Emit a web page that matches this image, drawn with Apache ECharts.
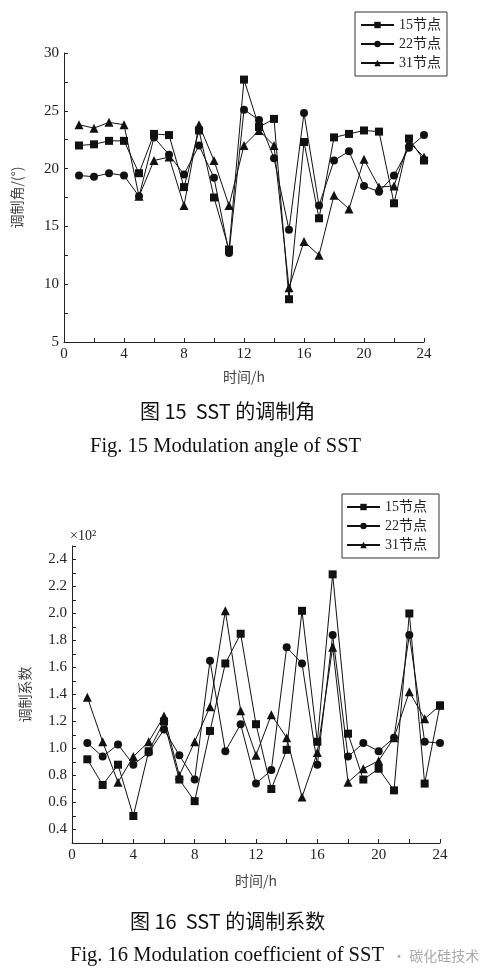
<!DOCTYPE html>
<html>
<head>
<meta charset="utf-8">
<script src="https://cdn.jsdelivr.net/npm/echarts@6/dist/echarts.min.js"></script>
<style>
  html, body { margin: 0; padding: 0; background: #fff; }
  #chart { width: 492px; height: 978px; }
</style>
</head>
<body>
<div id="chart"></div>
<script>
// 时间 (h)
const hours = [1, 2, 3, 4, 5, 6, 7, 8, 9, 10, 11, 12, 13, 14, 15, 16, 17, 18, 19, 20, 21, 22, 23, 24]
const seriesNames = ['15节点', '22节点', '31节点']

// 图15 调制角 (°)
const angle15 = [22.0, 22.1, 22.4, 22.4, 19.6, 23.0, 22.9, 18.4, 23.3, 17.5, 13.0, 27.7, 23.6, 24.3, 8.7, 22.3, 15.7, 22.7, 23.0, 23.3, 23.2, 17.0, 22.6, 20.7]
const angle22 = [19.4, 19.3, 19.6, 19.4, 17.6, 22.7, 21.2, 19.5, 22.0, 19.2, 12.7, 25.1, 24.2, 20.9, 14.7, 24.8, 16.8, 20.7, 21.5, 18.5, 18.0, 19.4, 21.8, 22.9]
const angle31 = [23.8, 23.5, 24.0, 23.8, 17.6, 20.7, 21.0, 16.8, 23.8, 20.7, 16.8, 22.0, 23.3, 22.0, 9.7, 13.7, 12.5, 17.7, 16.5, 20.8, 18.4, 18.5, 22.3, 21.0]

// 图16 调制系数 (×10²)
const coef15 = [0.92, 0.73, 0.88, 0.50, 0.98, 1.20, 0.77, 0.61, 1.13, 1.63, 1.85, 1.18, 0.70, 0.99, 2.02, 1.05, 2.29, 1.11, 0.77, 0.85, 0.69, 2.00, 0.74, 1.32]
const coef22 = [1.04, 0.94, 1.03, 0.88, 0.97, 1.14, 0.95, 0.77, 1.65, 0.98, 1.18, 0.74, 0.84, 1.75, 1.63, 0.88, 1.84, 0.94, 1.04, 0.98, 1.08, 1.84, 1.05, 1.04]
const coef31 = [1.38, 1.05, 0.75, 0.94, 1.05, 1.24, 0.80, 1.05, 1.31, 2.02, 1.28, 0.95, 1.25, 1.08, 0.64, 0.97, 1.75, 0.75, 0.85, 0.91, 1.08, 1.42, 1.22, 1.32]

const symbols = ['rect', 'circle', 'triangle']
const symbolSizes = [8, 8, 9]

const serif = 'Liberation Serif'
const cjk = 'Noto Sans CJK SC'

function pairs(values) {
  return hours.map((h, i) => [h, values[i]])
}

function makeSeries(values, idx, gridIdx) {
  return {
    name: seriesNames[idx],
    type: 'line',
    xAxisIndex: gridIdx,
    yAxisIndex: gridIdx,
    symbol: symbols[idx],
    symbolSize: symbolSizes[idx],
    showSymbol: true,
    lineStyle: { color: '#111', width: 1 },
    itemStyle: { color: '#111' },
    data: pairs(values)
  }
}

function xAxisOf(gridIdx) {
  return {
    type: 'value',
    gridIndex: gridIdx,
    min: 0,
    max: 24,
    interval: 2,
    name: '时间/h',
    nameLocation: 'middle',
    nameGap: gridIdx === 0 ? 28 : 31,
    nameTextStyle: { fontFamily: cjk, fontSize: 14, color: '#444' },
    axisLine: { lineStyle: { color: '#222', width: 1 } },
    axisTick: { inside: true, length: 4, lineStyle: { color: '#222' } },
    axisLabel: {
      margin: 5,
      fontFamily: serif,
      fontSize: 15,
      color: '#222',
      formatter: v => (v % 4 === 0 ? String(v) : '')
    },
    splitLine: { show: false }
  }
}

const legendBase = {
  orient: 'vertical',
  data: seriesNames,
  itemWidth: 33,
  itemHeight: 8,
  itemGap: 5,
  borderColor: '#333',
  borderWidth: 1,
  textStyle: { fontFamily: serif + ', ' + cjk, fontSize: 14, color: '#222' },
  inactiveColor: '#111',
  selectedMode: false
}

const chart = echarts.init(document.getElementById('chart'))

chart.setOption({
  backgroundColor: '#fff',
  animation: false,
  grid: [
    { left: 64, right: 68, top: 53, height: 289 },
    { left: 72, right: 52, top: 546, height: 297 }
  ],
  legend: [
    Object.assign({}, legendBase, { left: 355, top: 12, padding: [6, 6, 6, 5] }),
    Object.assign({}, legendBase, { left: 342, top: 494, padding: [6, 12, 6, 4] })
  ],
  xAxis: [xAxisOf(0), xAxisOf(1)],
  yAxis: [
    {
      type: 'value',
      gridIndex: 0,
      min: 5,
      max: 30,
      interval: 2.5,
      name: '调制角/(°)',
      nameLocation: 'middle',
      nameGap: 40,
      nameTextStyle: { fontFamily: cjk, fontSize: 14, color: '#444' },
      axisLine: { show: true, lineStyle: { color: '#222', width: 1 } },
      axisTick: { show: true, inside: true, length: 4, lineStyle: { color: '#222' } },
      axisLabel: {
        margin: 5,
        fontFamily: serif,
        fontSize: 15,
        color: '#222',
        formatter: v => (v % 5 === 0 ? String(v) : '')
      },
      splitLine: { show: false }
    },
    {
      type: 'value',
      gridIndex: 1,
      min: 0.3,
      max: 2.5,
      interval: 0.1,
      name: '调制系数',
      nameLocation: 'middle',
      nameGap: 40,
      nameTextStyle: { fontFamily: cjk, fontSize: 14, color: '#444' },
      axisLine: { show: true, lineStyle: { color: '#222', width: 1 } },
      axisTick: { show: true, inside: true, length: 4, lineStyle: { color: '#222' } },
      axisLabel: {
        margin: 5,
        fontFamily: serif,
        fontSize: 15,
        color: '#222',
        showMinLabel: true,
        showMaxLabel: true,
        formatter: v => (Math.round(v * 10) % 2 === 0 ? v.toFixed(1) : '')
      },
      splitLine: { show: false }
    }
  ],
  graphic: [
    {
      type: 'text',
      left: 70,
      top: 529,
      style: { text: '×10²', fontFamily: serif, fontSize: 14, fill: '#222' }
    },
    {
      type: 'text',
      left: 140,
      top: 401,
      style: { text: '图 15  SST 的调制角', fontFamily: cjk, fontSize: 20, fill: '#111' }
    },
    {
      type: 'text',
      left: 90,
      top: 436,
      style: { text: 'Fig. 15 Modulation angle of SST', fontFamily: serif, fontSize: 20.5, fill: '#111' }
    },
    {
      type: 'text',
      left: 130,
      top: 911,
      style: { text: '图 16  SST 的调制系数', fontFamily: cjk, fontSize: 20, fill: '#111' }
    },
    {
      type: 'text',
      left: 70,
      top: 945,
      style: { text: 'Fig. 16 Modulation coefficient of SST', fontFamily: serif, fontSize: 20.5, fill: '#111' }
    },
    {
      type: 'text',
      left: 392,
      top: 949,
      style: { text: '· 碳化硅技术', fontFamily: cjk, fontSize: 14, fill: '#aaa' }
    }
  ],
  series: [
    makeSeries(angle15, 0, 0),
    makeSeries(angle22, 1, 0),
    makeSeries(angle31, 2, 0),
    makeSeries(coef15, 0, 1),
    makeSeries(coef22, 1, 1),
    makeSeries(coef31, 2, 1)
  ]
})
</script>
</body>
</html>
